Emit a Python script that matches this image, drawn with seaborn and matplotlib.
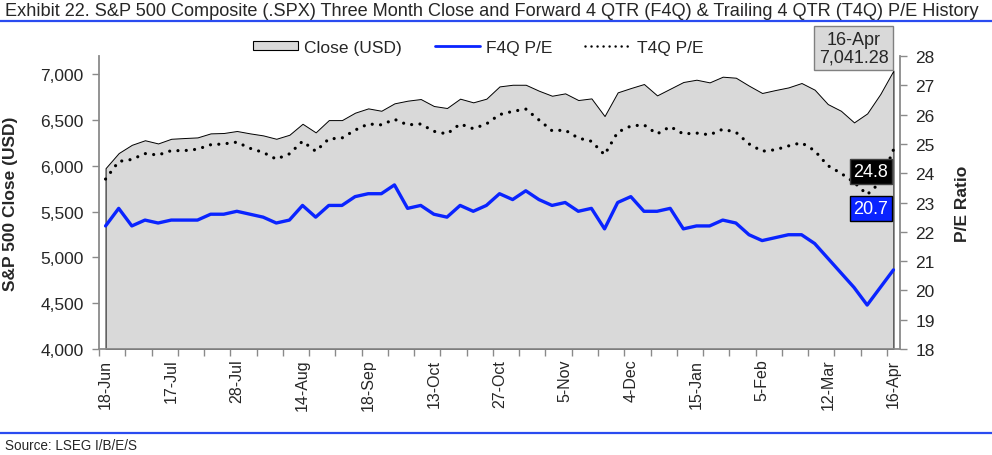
import numpy as np
import pandas as pd
import matplotlib
matplotlib.use("Agg")
import matplotlib.pyplot as plt
import seaborn as sns
from matplotlib.patches import Patch
from matplotlib.lines import Line2D

# Data (61 trading points, category axis)
date_labels = ["18-Jun", "17-Jul", "28-Jul", "14-Aug", "18-Sep", "13-Oct", "27-Oct",
               "5-Nov", "4-Dec", "15-Jan", "5-Feb", "12-Mar", "16-Apr"]
label_step = 5

close = [5975, 6140, 6230, 6280, 6245, 6296, 6304, 6311, 6355, 6359,
         6381, 6355, 6333, 6296, 6340, 6460, 6366, 6500, 6500, 6581,
         6628, 6602, 6683, 6712, 6730, 6654, 6632, 6734, 6694, 6734,
         6868, 6886, 6886, 6821, 6766, 6792, 6719, 6737, 6544, 6803,
         6850, 6894, 6770, 6843, 6916, 6941, 6912, 6974, 6963, 6876,
         6796, 6828, 6857, 6905, 6832, 6675, 6602, 6475, 6573, 6785, 7041.28]

f4q = [22.2, 22.8, 22.2, 22.4, 22.3, 22.4, 22.4, 22.4, 22.6, 22.6,
       22.7, 22.6, 22.5, 22.3, 22.4, 22.9, 22.5, 22.9, 22.9, 23.2,
       23.3, 23.3, 23.6, 22.8, 22.9, 22.6, 22.5, 22.9, 22.7, 22.9,
       23.3, 23.1, 23.4, 23.1, 22.9, 23.0, 22.7, 22.8, 22.1, 23.0,
       23.2, 22.7, 22.7, 22.8, 22.1, 22.2, 22.2, 22.4, 22.3, 21.9,
       21.7, 21.8, 21.9, 21.9, 21.6, 21.1, 20.6, 20.1, 19.5, 20.1, 20.7]

t4q = [23.8, 24.4, 24.47, 24.67, 24.62, 24.77, 24.77, 24.82, 24.97, 25.0,
       25.06, 24.85, 24.71, 24.48, 24.66, 25.09, 24.75, 25.17, 25.2, 25.47,
       25.68, 25.65, 25.84, 25.65, 25.68, 25.43, 25.34, 25.68, 25.52, 25.68,
       26.0, 26.11, 26.19, 25.82, 25.45, 25.47, 25.2, 25.09, 24.63, 25.4,
       25.61, 25.65, 25.34, 25.59, 25.34, 25.37, 25.31, 25.5, 25.4, 25.0,
       24.75, 24.8, 24.93, 25.04, 24.77, 24.26, 24.0, 23.69, 23.27, 23.69, 24.8]

BLUE = "#0a24ff"
GREY_FILL = "#d9d9d9"
AXIS_GREY = "#8a8a8a"

sns.set_style("white")
plt.rcParams['font.family'] = ['Liberation Sans', 'DejaVu Sans']

df = pd.DataFrame({'idx': np.arange(len(close)), 'close': close, 'f4q': f4q, 't4q': t4q})
n = len(df)

W, H = 992, 456
fig = plt.figure(figsize=(W / 100, H / 100), dpi=100)
ax = fig.add_axes([99 / W, 1 - 350 / H, (900 - 99) / W, (350 - 57) / H])

# Close area on the left axis
ax.fill_between(df['idx'], df['close'], 4000, facecolor=GREY_FILL, edgecolor='black', linewidth=0.7, zorder=1)
ax.set_xlim(-0.5, n - 0.5)
ax.set_ylim(4000, 7200)
ax.set_yticks(np.arange(4000, 7001, 500))
ax.set_yticklabels([f"{v:,.0f}" for v in np.arange(4000, 7001, 500)])

# P/E lines on the right axis
ax2 = ax.twinx()
sns.lineplot(data=df, x='idx', y='f4q', ax=ax2, color=BLUE, linewidth=2.4, zorder=3)
sns.lineplot(data=df, x='idx', y='t4q', ax=ax2, color='black', linewidth=2.3,
             linestyle=(0, (0.01, 2.6)), dash_capstyle='round', zorder=3)
ax2.set_ylim(18, 28)
ax2.set_yticks(np.arange(18, 29, 1))
ax2.set_xlim(-0.5, n - 0.5)

# x axis: labels every 5 points, tick marks every 2 points on boundaries
ax.set_xticks(np.arange(0, n, label_step))
ax.set_xticklabels(date_labels, rotation=90)
ax.set_xticks(np.arange(-0.5, n - 1, 2), minor=True)
ax.tick_params(axis='x', which='major', length=0, pad=7, labelsize=11.5)
ax.tick_params(axis='x', which='minor', length=5, width=1, color=AXIS_GREY, direction='out', bottom=True)
ax.tick_params(axis='y', length=5, width=1, color=AXIS_GREY, direction='out', pad=6, labelsize=12.5, left=True)
ax2.tick_params(axis='y', length=5, width=1, color=AXIS_GREY, direction='out', pad=6, labelsize=12.5, right=True)

for s in ['top', 'right']:
    ax.spines[s].set_visible(False)
for s in ['left', 'bottom']:
    ax.spines[s].set_color(AXIS_GREY)
    ax.spines[s].set_linewidth(1.3)
for s in ['top', 'left', 'bottom']:
    ax2.spines[s].set_visible(False)
ax2.spines['right'].set_color(AXIS_GREY)
ax2.spines['right'].set_linewidth(1.3)

ax.set_xlabel('')
ax.set_ylabel('S&P 500 Close (USD)', fontsize=12.5, fontweight='bold')
ax.yaxis.set_label_coords(-0.101, 0.5)
ax2.set_xlabel('')
ax2.set_ylabel('P/E Ratio', fontsize=12.5, fontweight='bold')
ax2.yaxis.set_label_coords(1.069, 0.5)

# Data labels
ax.annotate(f"{date_labels[-1]}\n{close[-1]:,.2f}", xy=(n - 1, close[-1]), xytext=(-5, 5),
            textcoords='offset pixels', ha='right', va='bottom', multialignment='center',
            fontsize=13, linespacing=1.05,
            bbox=dict(boxstyle='square,pad=0.25', fc=GREY_FILL, ec='#808080', lw=1), zorder=5)
ax2.annotate(f"{t4q[-1]:.1f}", xy=(n - 1, t4q[-1]), xytext=(-5, -22),
             textcoords='offset pixels', ha='right', va='center', color='white', fontsize=13,
             bbox=dict(boxstyle='square,pad=0.22', fc='black', ec='#404040', lw=1), zorder=6)
ax2.annotate(f"{f4q[-1]:.1f}", xy=(n - 1, f4q[-1]), xytext=(-5, 61),
             textcoords='offset pixels', ha='right', va='center', color='white', fontsize=13,
             bbox=dict(boxstyle='square,pad=0.22', fc=BLUE, ec='black', lw=1), zorder=6)

# Legend
handles = [Patch(facecolor=GREY_FILL, edgecolor='black', linewidth=0.8),
           Line2D([], [], color=BLUE, linewidth=2),
           Line2D([], [], color='black', linewidth=1.8, linestyle=(0, (0.01, 2.4)), dash_capstyle='round')]
fig.legend(handles, ['Close (USD)', 'F4Q P/E', 'T4Q P/E'], loc='center', ncol=3,
           bbox_to_anchor=(478 / W, 1 - 48 / H), frameon=False, fontsize=12.5,
           handlelength=2.6, handleheight=0.45, handletextpad=0.35, columnspacing=1.9)

# Title, rules and source
title = fig.text(5 / W, 1 - 11 / H,
                 "Exhibit 22. S&P 500 Composite (.SPX) Three Month Close and Forward 4 QTR (F4Q) & "
                 "Trailing 4 QTR (T4Q) P/E History",
                 ha='left', va='center', fontsize=12)
renderer = fig.canvas.get_renderer()
tw = title.get_window_extent(renderer).width
title.set_fontsize(12 * 978 / tw)

fig.add_artist(Line2D([0, 1], [1 - 21.5 / H, 1 - 21.5 / H], transform=fig.transFigure, color='#2a4bf0', linewidth=1.6))
fig.add_artist(Line2D([0, 1], [1 - 433.5 / H, 1 - 433.5 / H], transform=fig.transFigure, color='#2a4bf0', linewidth=1.6))
fig.text(5 / W, 1 - 446 / H, "Source: LSEG I/B/E/S", ha='left', va='center', fontsize=9.75)

fig.savefig("out.png", dpi=100)
